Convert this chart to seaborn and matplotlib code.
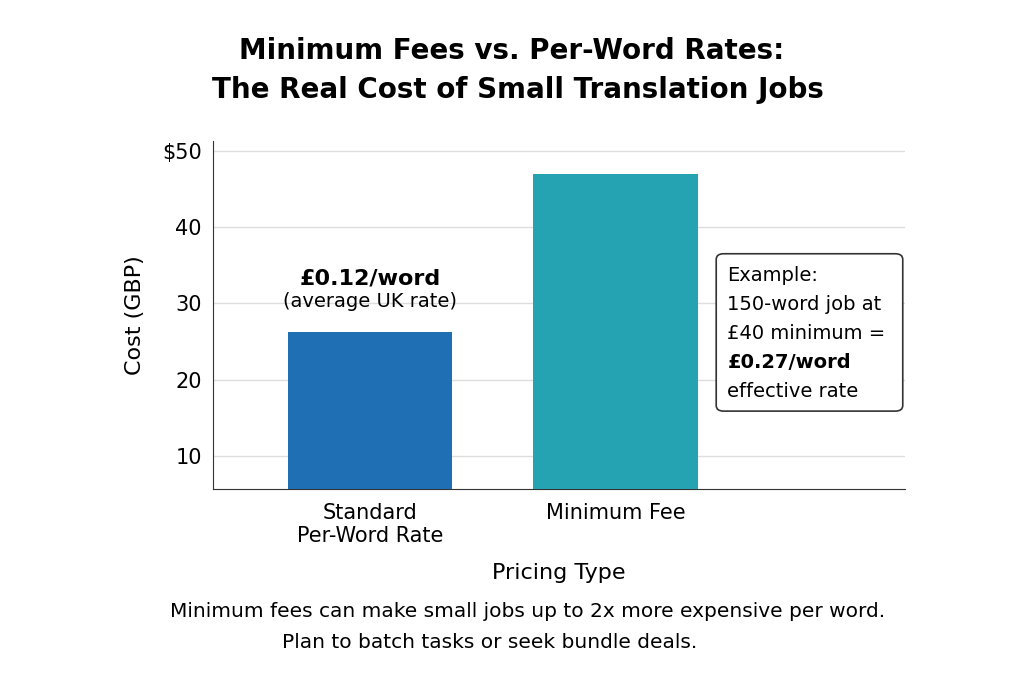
import matplotlib
matplotlib.use("Agg")
import matplotlib.pyplot as plt
from matplotlib.patches import FancyBboxPatch
import seaborn as sns
import pandas as pd

categories = ["Standard\nPer-Word Rate", "Minimum Fee"]
costs = [26.3, 47.0]
colors = ["#1f6fb4", "#26a3b3"]
yticks = [10, 20, 30, 40, 50]
ytick_labels = ["10", "20", "30", "40", "$50"]
note_lines = ["Example:", "150-word job at", "£40 minimum =", "£0.27/word", "effective rate"]
note_bold = [False, False, False, True, False]

df = pd.DataFrame({"cat": categories, "cost": costs})
plt.rcParams["font.family"] = "DejaVu Sans"
fig = plt.figure(figsize=(10.24, 6.83), dpi=100)
ax = fig.add_axes([0.208, 0.284, 0.676, 0.51])
sns.barplot(data=df, x="cat", y="cost", hue="cat", palette=colors, width=0.67,
            saturation=1, legend=False, ax=ax, zorder=3)
ax.set_ylim(5.7, 51.3)
ax.set_xlim(-0.64, 2.18)
ax.set_yticks(yticks)
ax.set_yticklabels(ytick_labels, fontsize=15)
ax.tick_params(axis="x", labelsize=15, length=0, pad=10)
ax.tick_params(axis="y", length=0, pad=8)
ax.grid(axis="y", color="#dddddd", linewidth=1, zorder=0)
for s in ["top", "right"]:
    ax.spines[s].set_visible(False)
ax.spines["left"].set_color("#333333")
ax.spines["bottom"].set_color("#333333")
ax.set_xlabel("Pricing Type", fontsize=16, labelpad=12)
ax.set_ylabel("Cost (GBP)", fontsize=16, labelpad=12)

ax.text(0, 33.2, "£0.12/word", ha="center", va="center", fontsize=16, fontweight="bold")
ax.text(0, 30.3, "(average UK rate)", ha="center", va="center", fontsize=14)

box = FancyBboxPatch((1.41, 15.9), 0.76, 20.6, boxstyle="round,pad=0,rounding_size=0.03",
                     fc="white", ec="#333333", lw=1.2, zorder=5, mutation_aspect=25)
ax.add_patch(box)
for i, (line, b) in enumerate(zip(note_lines, note_bold)):
    ax.text(1.455, 33.66 - i * 3.79, line, ha="left", va="center", fontsize=14,
            fontweight="bold" if b else "normal", zorder=6)

fig.text(0.5, 0.925, "Minimum Fees vs. Per-Word Rates:", ha="center", va="center",
         fontsize=20, fontweight="semibold")
fig.text(0.506, 0.868, "The Real Cost of Small Translation Jobs", ha="center", va="center",
         fontsize=20, fontweight="semibold")
fig.text(0.515, 0.105, "Minimum fees can make small jobs up to 2x more expensive per word.",
         ha="center", va="center", fontsize=14.5)
fig.text(0.478, 0.06, "Plan to batch tasks or seek bundle deals.", ha="center", va="center", fontsize=14.5)
fig.savefig("out.png", dpi=100)
